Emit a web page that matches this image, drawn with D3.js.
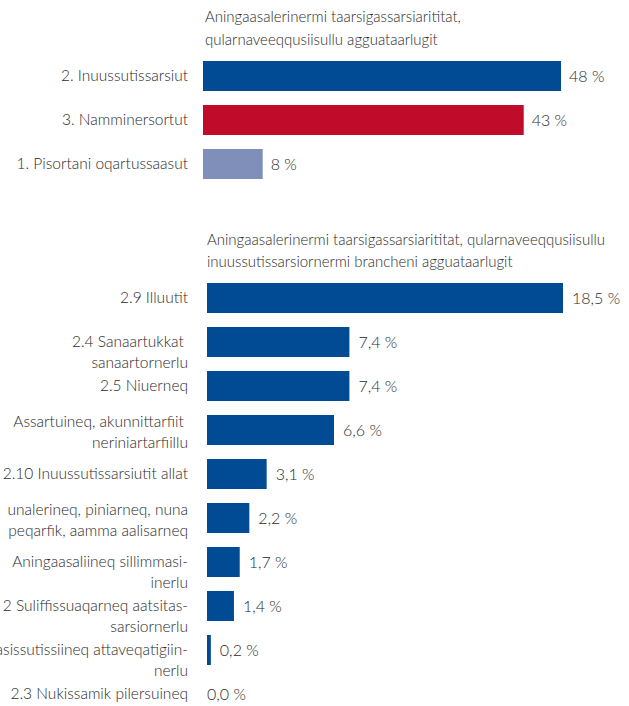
<!DOCTYPE html>
<html>
<head>
<meta charset="utf-8">
<script src="https://cdn.jsdelivr.net/npm/d3@7"></script>
<style>
  body { margin: 0; background: #fff; }
  svg text { font-family: "Lato", "Open Sans", sans-serif; font-weight: 300; fill: #2b2b2b; }
</style>
</head>
<body>
<div id="chart"></div>
<script>
var width = 629,
    height = 706;

// top chart data
var topTitle = ["Aningaasalerinermi taarsigassarsiarititat,", "qularnaveeqqusiisullu agguataarlugit"];
var topCategories = ["2. Inuussutissarsiut", "3. Namminersortut", "1. Pisortani oqartussaasut"];
var topValues = [48, 43, 8];
var topColors = ["#004b93", "#c10b2b", "#7f8fba"];

// bottom chart data
var bottomTitle = ["Aningaasalerinermi taarsigassarsiarititat, qularnaveeqqusiisullu", "inuussutissarsiornermi brancheni agguataarlugit"];
var bottomCategories = [
  ["2.9 Illuutit"],
  ["2.4 Sanaartukkat ", "sanaartornerlu"],
  ["2.5 Niuerneq"],
  ["Assartuineq, akunnittarfiit ", "neriniartarfiillu"],
  ["2.10 Inuussutissarsiutit allat"],
  ["unalerineq, piniarneq, nuna", "peqarfik, aamma aalisarneq"],
  ["Aningaasaliineq sillimmasi-", "inerlu"],
  ["2 Suliffissuaqarneq aatsitas-", "sarsiornerlu"],
  ["asissutissiineq attaveqatigiin-", "nerlu"],
  ["2.3 Nukissamik pilersuineq"]
];
var bottomValues = [18.5, 7.4, 7.4, 6.6, 3.1, 2.2, 1.7, 1.4, 0.2, 0.0];
var bottomColor = "#004b93";

var svg = d3.select("#chart").append("svg")
    .attr("width", width)
    .attr("height", height);

var fmtInt = function(v) { return v + " %"; };
var fmtDec = function(v) { return d3.format(".1f")(v).replace(".", ",") + " %"; };

// ---- top chart ----
var x1 = d3.scaleLinear().domain([0, 48]).range([203, 561]);
var y1 = d3.scaleBand().domain(d3.range(topValues.length))
    .range([54, 54 + 44 * topValues.length])
    .paddingInner(14 / 44).paddingOuter(7 / 44);

svg.append("g").selectAll("text")
    .data(topTitle).enter().append("text")
      .attr("x", 205)
      .attr("y", function(d, i) { return 22 + i * 23; })
      .style("font-size", "15px")
      .text(function(d) { return d; });

var g1 = svg.append("g");
g1.selectAll("rect")
    .data(topValues).enter().append("rect")
      .attr("x", x1(0))
      .attr("y", function(d, i) { return y1(i); })
      .attr("width", function(d) { return x1(d) - x1(0); })
      .attr("height", y1.bandwidth())
      .attr("fill", function(d, i) { return topColors[i]; });

g1.selectAll(".val")
    .data(topValues).enter().append("text")
      .attr("class", "val")
      .attr("x", function(d) { return x1(d) + 8; })
      .attr("y", function(d, i) { return y1(i) + y1.bandwidth() / 2; })
      .attr("dy", "0.35em")
      .style("font-size", "16px")
      .text(fmtInt);

g1.selectAll(".cat")
    .data(topCategories).enter().append("text")
      .attr("class", "cat")
      .attr("x", 188)
      .attr("y", function(d, i) { return y1(i) + y1.bandwidth() / 2; })
      .attr("dy", "0.35em")
      .attr("text-anchor", "end")
      .style("font-size", "15.5px")
      .text(function(d) { return d; });

// ---- bottom chart ----
var x2 = d3.scaleLinear().domain([0, 18.5]).range([207, 563]);
var y2 = d3.scaleBand().domain(d3.range(bottomValues.length))
    .range([276, 276 + 44 * bottomValues.length])
    .paddingInner(14 / 44).paddingOuter(7 / 44);

svg.append("g").selectAll("text")
    .data(bottomTitle).enter().append("text")
      .attr("x", 207)
      .attr("y", function(d, i) { return 245 + i * 22; })
      .style("font-size", "15px")
      .text(function(d) { return d; });

var g2 = svg.append("g");
g2.selectAll("rect")
    .data(bottomValues).enter().append("rect")
      .attr("x", x2(0))
      .attr("y", function(d, i) { return y2(i); })
      .attr("width", function(d) { return x2(d) - x2(0); })
      .attr("height", y2.bandwidth())
      .attr("fill", bottomColor);

g2.selectAll(".val")
    .data(bottomValues).enter().append("text")
      .attr("class", "val")
      .attr("x", function(d) { return d > 0 ? x2(d) + 9 : x2(0); })
      .attr("y", function(d, i) { return y2(i) + y2.bandwidth() / 2; })
      .attr("dy", "0.35em")
      .style("font-size", "16px")
      .text(fmtDec);

// two-line labels: most start at the bar centre, a couple are centred on it
var labelShift = function(i) { return (i === 3 || i === 5) ? -8 : 0; };

var cats = g2.selectAll(".cat")
    .data(bottomCategories).enter().append("text")
      .attr("class", "cat")
      .attr("text-anchor", "end")
      .style("font-size", "15.5px");

cats.each(function(lines, i) {
  var cy = y2(i) + y2.bandwidth() / 2 + labelShift(i);
  d3.select(this).selectAll("tspan")
    .data(lines).enter().append("tspan")
      .attr("x", 188)
      .attr("y", function(d, j) { return cy + j * 21; })
      .attr("dy", "0.35em")
      .style("white-space", "pre")
      .text(function(d) { return d; });
});
</script>
</body>
</html>
